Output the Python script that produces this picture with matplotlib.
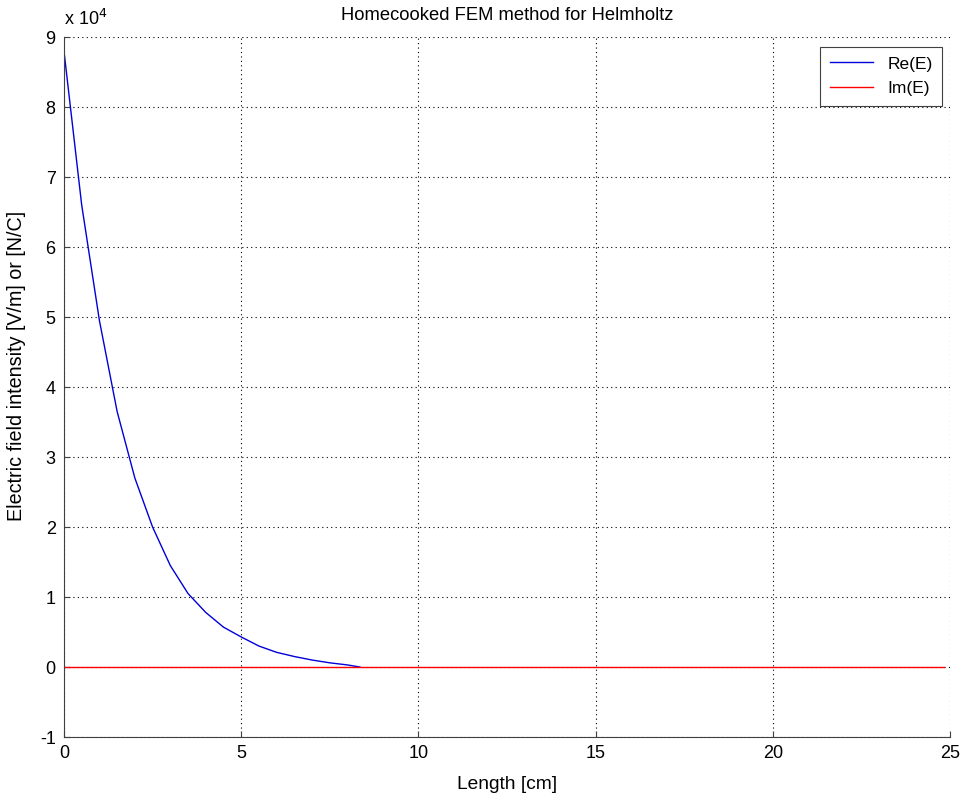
import numpy as np
import matplotlib
matplotlib.use('Agg')
import matplotlib.pyplot as plt

plt.rcParams['font.family'] = ['Liberation Sans', 'DejaVu Sans']
plt.rcParams['axes.unicode_minus'] = False

# Valores (E en unidades de 1e4)
x_re = [0, 0.5, 1.0, 1.5, 2.0, 2.5, 3.0, 3.5, 4.0, 4.5, 5.0, 5.5, 6.0, 6.5, 7.0, 7.5, 8.0, 8.35]
re_e = [8.8, 6.6, 4.95, 3.65, 2.7, 2.0, 1.45, 1.05, 0.78, 0.57, 0.43, 0.30, 0.21, 0.15, 0.10, 0.06, 0.03, 0.0]
x_im = [0, 24.84]
im_e = [0, 0]

fig = plt.figure(figsize=(9.62, 7.98), dpi=100)
ax = fig.add_axes([0.0665, 0.0764, 0.921, 0.8772])

ax.plot(x_re, re_e, color='#0000d8', lw=1, label='Re(E)')
ax.plot(x_im, im_e, color='red', lw=1, label='Im(E)')

ax.set_xlim(0, 25)
ax.set_ylim(-1, 9)
ax.set_xticks(np.arange(0, 26, 5))
ax.set_yticks(np.arange(-1, 10, 1))
ax.grid(True, linestyle=(0, (1, 3)), color='black', lw=0.8)
ax.tick_params(direction='in', labelsize=13, length=4, color='#404040', pad=6)
for s in ['top', 'right']:
    ax.spines[s].set_visible(False)
for s in ['left', 'bottom']:
    ax.spines[s].set_color('#404040')

ax.text(0.0, 1.012, 'x 10$^{4}$', transform=ax.transAxes, fontsize=13, va='bottom')
ax.set_title('Homecooked FEM method for Helmholtz', fontsize=13.2, pad=12)
ax.set_xlabel('Length [cm]', fontsize=13.8, labelpad=10)
ax.set_ylabel('Electric field intensity [V/m] or [N/C]', fontsize=14.2)
ax.yaxis.set_label_coords(-0.043, 0.53)

leg = ax.legend(loc='upper right', bbox_to_anchor=(0.991, 0.986), fontsize=12.5,
                fancybox=False, framealpha=1, edgecolor='#404040',
                handlelength=2.5, labelspacing=0.55, borderpad=0.55,
                borderaxespad=0)
leg.get_frame().set_linewidth(0.8)

plt.savefig('out.png', dpi=100)
